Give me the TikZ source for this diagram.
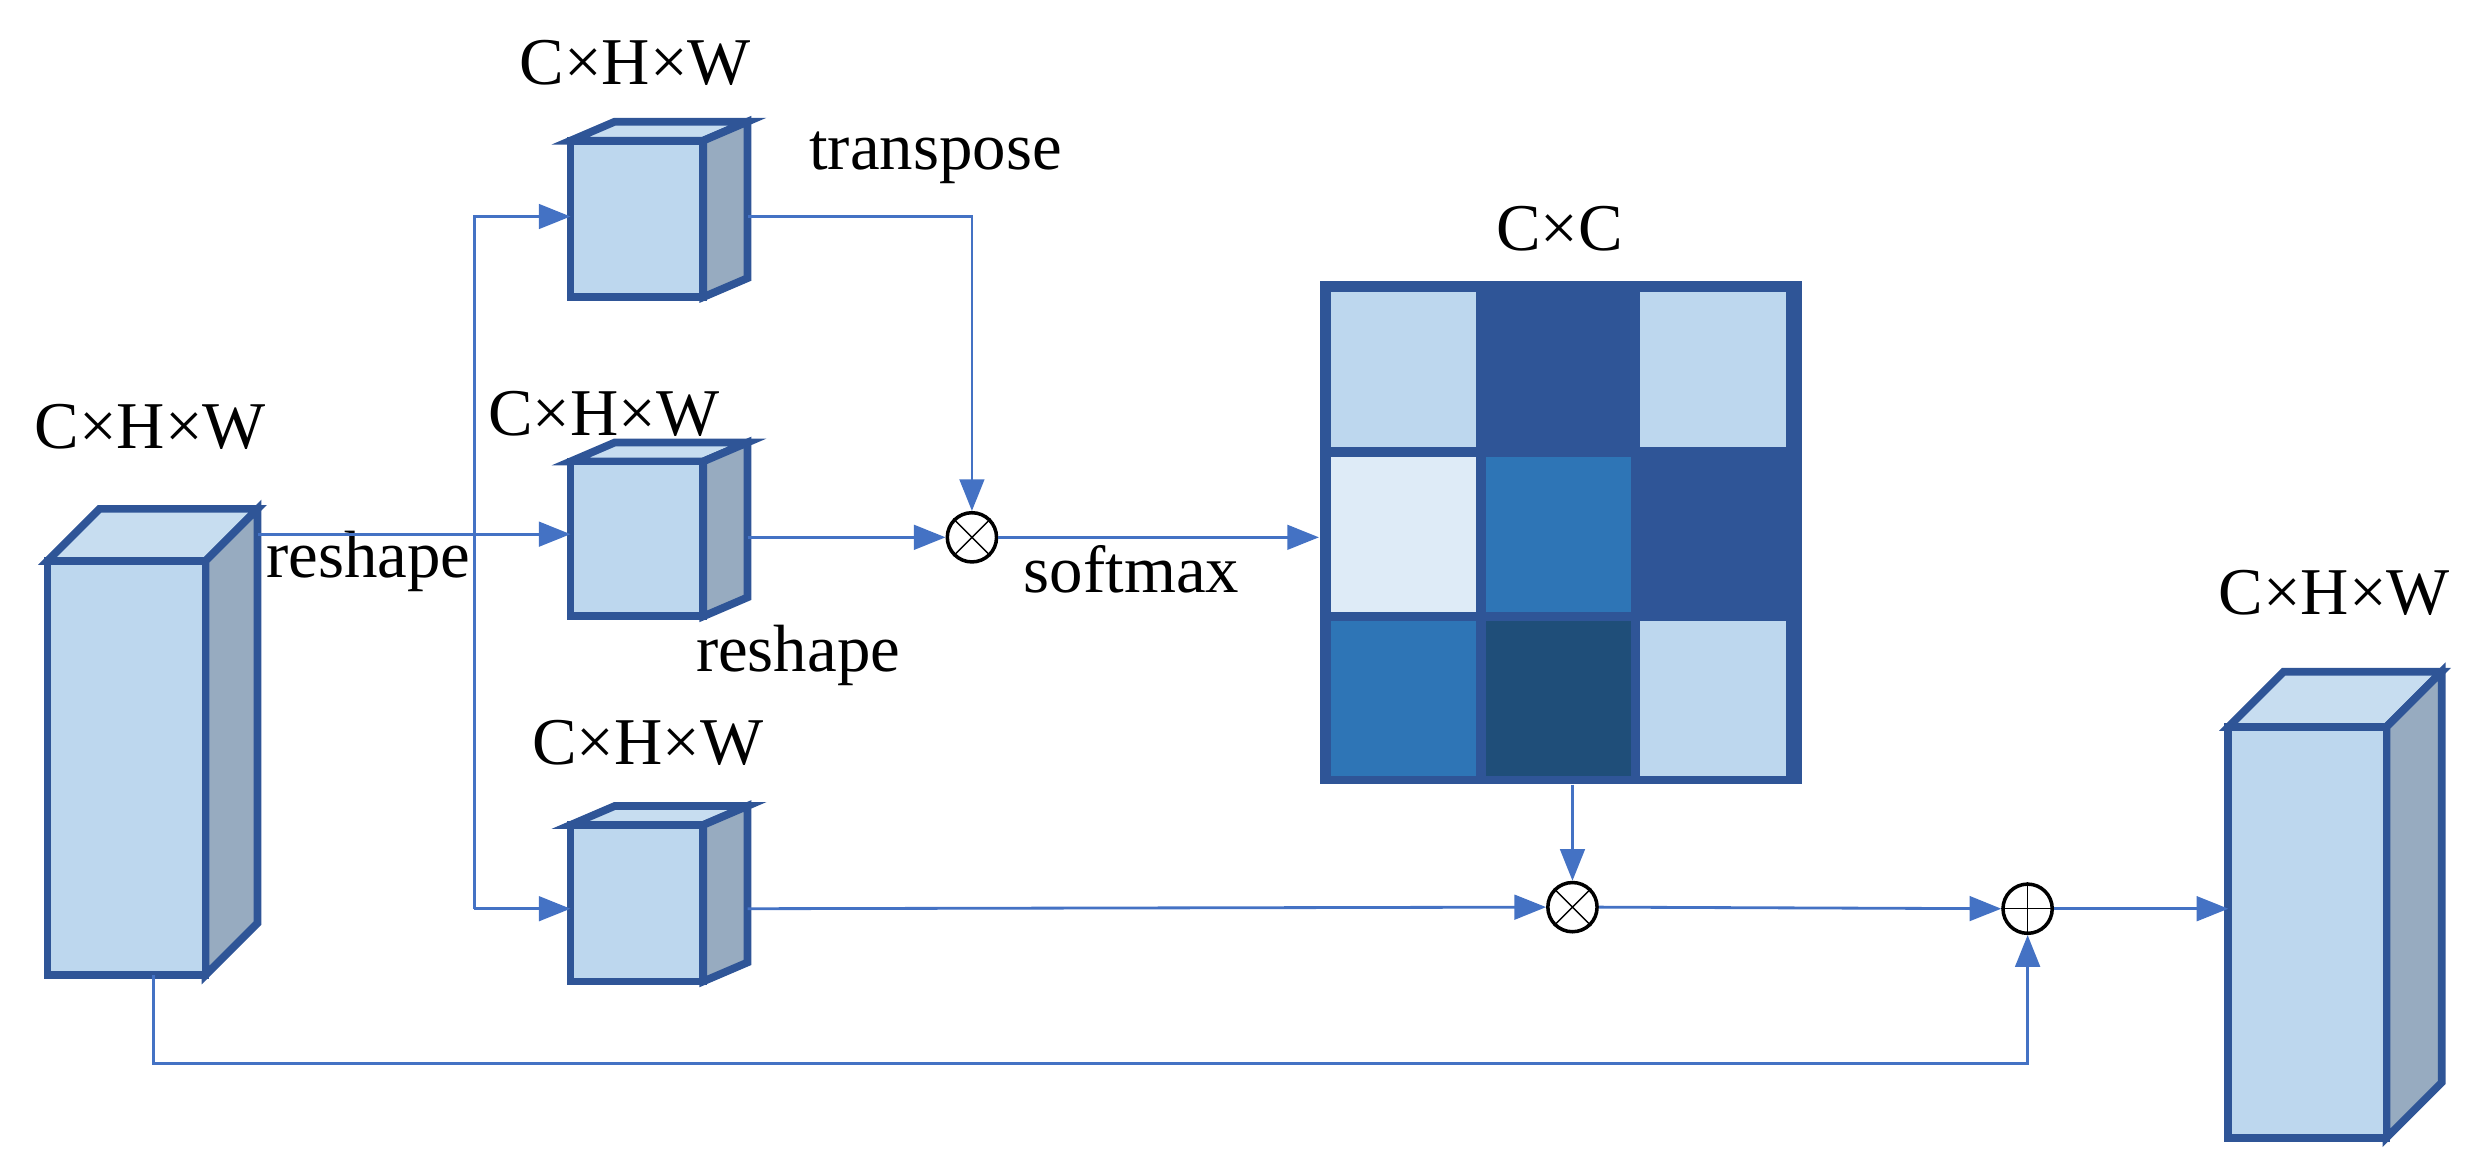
\documentclass[tikz,border=0pt]{standalone}
\usepackage{fontspec}
\setmainfont{Liberation Serif}
\usetikzlibrary{calc,positioning,arrows.meta}
\definecolor{lblue}{HTML}{BDD7EE}
\definecolor{pblue}{HTML}{DEEBF7}
\definecolor{mblue}{HTML}{2E75B6}
\definecolor{dblue}{HTML}{2F5597}
\definecolor{ddblue}{HTML}{1F4E79}
\definecolor{sgray}{HTML}{97ABC0}
\definecolor{lnblue}{HTML}{4472C4}
\tikzset{
  face/.style={draw=dblue,line width=2.2pt,line join=miter},
  link/.style={draw=lnblue,line width=0.8pt},
  arr/.style={link,-{Triangle[length=9pt,width=7pt]}},
  lbl/.style={font=\fontsize{19}{22}\selectfont,inner sep=0pt},
  op/.style={circle,draw=black,line width=1pt,minimum size=14pt,inner sep=0pt}
}
% cuboid: #1 name, #2 front top-left, #3 front bottom-right, #4 depth offset
\newcommand{\cuboid}[4]{%
  \coordinate (#1-tl) at #2; \coordinate (#1-br) at #3;
  \coordinate (#1-tr) at (#1-tl -| #1-br); \coordinate (#1-bl) at (#1-tl |- #1-br);
  \fill[lblue!85!white,face] (#1-tl) -- ++#4 -- ($(#1-tr)+#4$) -- (#1-tr) -- cycle;
  \fill[sgray,face] (#1-tr) -- ($(#1-tr)+#4$) -- ($(#1-br)+#4$) -- (#1-br) -- cycle;
  \fill[lblue,face] (#1-tl) rectangle (#1-br);
}
\begin{document}
\begin{tikzpicture}[x=0.0158cm,y=-0.0158cm]
  \useasboundingbox (0,0) rectangle (1568,744);
  % cuboids
  \cuboid{in}{(30,355)}{(130,617)}{(33,-33)}
  \cuboid{q}{(361,89)}{(445,188)}{(28,-12)}
  \cuboid{k}{(361,292)}{(445,390)}{(28,-12)}
  \cuboid{v}{(361,522)}{(445,621)}{(28,-12)}
  \cuboid{out}{(1410,460)}{(1510,720)}{(35,-35)}
  % attention matrix
  \fill[dblue] (835,178) rectangle (1140,496);
  \foreach \c [count=\i from 0] in {lblue,dblue,lblue,pblue,mblue,dblue,mblue,ddblue,lblue} {
    \pgfmathtruncatemacro{\col}{mod(\i,3)}
    \pgfmathtruncatemacro{\row}{div(\i,3)}
    \fill[\c] ({842+\col*98},{185+\row*104}) rectangle ++(92,98);
  }
  \node[minimum width=305*0.0158cm,minimum height=318*0.0158cm,inner sep=0pt] (att) at (987.5,337) {};
  % operators
  \node[op] (m1) at (615,340) {};
  \draw (m1.north west) -- (m1.south east) (m1.north east) -- (m1.south west);
  \node[op] (m2) at (995,574) {};
  \draw (m2.north west) -- (m2.south east) (m2.north east) -- (m2.south west);
  \node[op] (p1) at (1283,575) {};
  \draw (p1.north) -- (p1.south) (p1.west) -- (p1.east);
  % labels
  \node[lbl] at (95,270) {C×H×W};
  \node[lbl] at (402,40) {C×H×W};
  \node[lbl] at (382,262) {C×H×W};
  \node[lbl] at (410,470) {C×H×W};
  \node[lbl] at (987,145) {C×C};
  \node[lbl] at (1477,375) {C×H×W};
  \node[lbl] at (592,100) {transpose};
  \node[lbl] at (233,355) {reshape};
  \node[lbl] at (505,415) {reshape};
  \node[lbl] at (716,360) {softmax};
  % connectors
  \coordinate (sp) at (300,338);
  \coordinate (inr) at ($(in-tr)+(33,-17)$);
  \draw[arr] (inr) -- (k-tl |- inr);
  \draw[arr] (300,575) |- (q-tl |- 0,137);
  \draw[arr] (300,575) -- (v-tl |- 0,575);
  \draw[arr] ($(q-tr)+(28,48)$) -| (m1.north);
  \draw[arr] ($(k-tr)+(28,48)$) -- (m1.west);
  \draw[arr] (m1.east) -- (att.west |- m1);
  \draw[arr] (att.south -| m2) -- (m2.north);
  \draw[arr] ($(v-tr)+(28,53)$) -- (m2.west);
  \draw[arr] (m2.east) -- (p1.west);
  \draw[arr] (p1.east) -- (out-tl |- p1);
  \draw[arr] ($(in-bl)!0.67!(in-br)$) |- (200,673) -| (p1.south);
\end{tikzpicture}
\end{document}
